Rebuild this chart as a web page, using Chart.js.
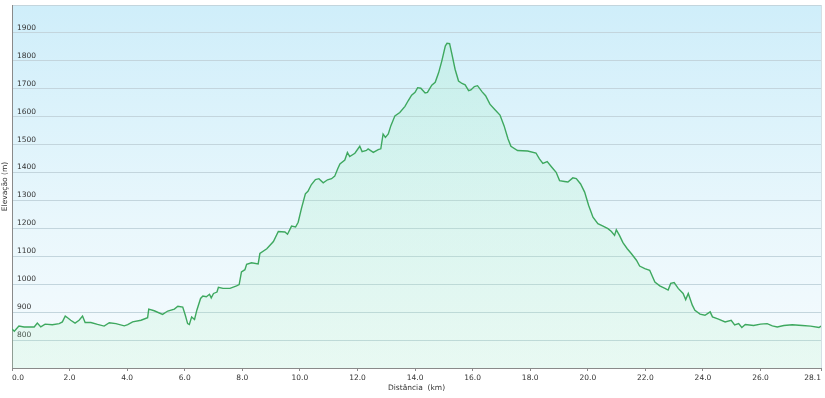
<!DOCTYPE html>
<html>
<head>
<meta charset="utf-8">
<script src="https://cdn.jsdelivr.net/npm/chart.js@4/dist/chart.umd.min.js"></script>
<style>
html,body{margin:0;padding:0;background:#fff;}
#wrap{width:825px;height:398px;}
</style>
</head>
<body>
<div id="wrap"><canvas id="c" width="825" height="398"></canvas></div>
<script>
// Distance along route (km)
const distKm = [0.00,0.08,0.24,0.42,0.77,0.88,1.00,1.15,1.40,1.64,1.75,1.85,1.93,2.04,2.19,2.33,2.45,2.54,2.74,2.97,3.20,3.38,3.61,3.90,4.02,4.19,4.48,4.71,4.75,4.94,5.23,5.41,5.64,5.76,5.93,6.02,6.10,6.16,6.24,6.34,6.42,6.55,6.63,6.75,6.86,6.92,7.00,7.12,7.17,7.33,7.57,7.80,7.89,7.97,8.09,8.15,8.32,8.55,8.61,8.85,9.08,9.25,9.48,9.57,9.71,9.85,9.94,10.05,10.19,10.28,10.40,10.54,10.66,10.81,10.96,11.10,11.21,11.31,11.39,11.56,11.65,11.73,11.91,12.08,12.16,12.31,12.37,12.55,12.72,12.81,12.89,12.97,13.07,13.16,13.30,13.47,13.65,13.76,13.88,14.00,14.09,14.20,14.35,14.43,14.58,14.70,14.82,14.93,15.05,15.11,15.20,15.28,15.39,15.51,15.63,15.74,15.86,15.94,16.06,16.17,16.33,16.45,16.60,16.76,16.95,17.09,17.23,17.33,17.56,17.91,18.20,18.32,18.44,18.59,18.75,18.90,19.02,19.19,19.31,19.48,19.60,19.75,19.89,20.03,20.18,20.35,20.53,20.70,20.82,20.93,20.99,21.10,21.22,21.37,21.51,21.69,21.80,21.98,22.15,22.33,22.50,22.68,22.79,22.88,23.00,23.14,23.31,23.40,23.49,23.63,23.72,23.90,24.07,24.25,24.33,24.54,24.77,24.98,25.10,25.24,25.35,25.47,25.76,26.00,26.23,26.41,26.58,26.81,27.10,27.45,27.74,28.03,28.10];
// Elevation (m)
const elevM = [840,832,850,847,847,861,847,857,855,859,865,886,880,871,861,871,886,863,863,856,850,862,859,851,855,865,871,880,911,905,892,904,911,921,918,889,859,856,883,874,907,949,958,955,964,951,967,972,989,985,985,994,999,1044,1052,1071,1077,1073,1110,1127,1153,1189,1187,1179,1208,1205,1222,1270,1324,1333,1357,1375,1378,1363,1374,1378,1387,1413,1431,1445,1472,1457,1469,1494,1475,1479,1485,1472,1482,1485,1538,1526,1538,1568,1603,1615,1637,1657,1677,1687,1704,1702,1685,1687,1713,1723,1758,1800,1853,1863,1862,1824,1770,1728,1719,1714,1693,1696,1708,1711,1689,1675,1645,1627,1606,1568,1520,1494,1479,1477,1470,1449,1433,1439,1419,1401,1371,1368,1366,1381,1378,1359,1330,1282,1240,1217,1208,1199,1189,1175,1195,1175,1149,1127,1110,1086,1065,1056,1050,1008,994,985,979,1003,1006,985,967,945,967,925,907,893,889,901,883,875,865,871,854,859,845,856,852,857,859,851,847,852,855,852,850,845,850];
// Axis ticks
const xTicks = [0,2,4,6,8,10,12,14,16,18,20,22,24,26,28.1];
const yLabelled = [800,900,1000,1100,1200,1300,1400,1500,1600,1700,1800,1900];
const xTitle = 'Distância  (km)';
const yTitle = 'Elevação (m)';

const points = distKm.map((d,i)=>({x:d,y:elevM[i]}));

const bgPlugin = {
  id:'bg',
  beforeDraw(chart){
    const {ctx, chartArea:{left,top,right,bottom}} = chart;
    const g = ctx.createLinearGradient(0,top,0,bottom);
    g.addColorStop(0,'#cfeefa');
    g.addColorStop(0.6,'#e9f7fc');
    g.addColorStop(1,'#f6fbfe');
    ctx.save();
    ctx.fillStyle = g;
    ctx.fillRect(left,top,right-left,bottom-top);
    ctx.restore();
  },
  afterDraw(chart){
    const {ctx, chartArea:{left,top,right,bottom}} = chart;
    ctx.save();
    ctx.strokeStyle = '#d4dfe4';
    ctx.lineWidth = 1;
    ctx.beginPath();
    ctx.moveTo(Math.round(right)+0.5, top);
    ctx.lineTo(Math.round(right)+0.5, bottom);
    ctx.stroke();
    ctx.restore();
  }
};

const font = {family:'"DejaVu Sans", Verdana, sans-serif', size:7.5};

new Chart(document.getElementById('c'), {
  type:'line',
  data:{datasets:[{
    data:points,
    borderColor:'#3ea85f',
    borderWidth:1.4,
    pointRadius:0,
    tension:0,
    fill:'start',
    backgroundColor:(ctx)=>{
      const ca = ctx.chart.chartArea;
      if(!ca) return 'rgba(150,230,175,0.2)';
      const g = ctx.chart.ctx.createLinearGradient(0,ca.top,0,ca.bottom);
      g.addColorStop(0,'rgba(150,235,185,0.22)');
      g.addColorStop(1,'rgba(170,240,190,0.18)');
      return g;
    }
  }]},
  options:{
    responsive:false,
    animation:false,
    layout:{padding:{top:5,right:4,left:0,bottom:0}},
    plugins:{legend:{display:false},tooltip:{enabled:false}},
    scales:{
      x:{
        type:'linear',
        min:0,max:28.1,
        afterBuildTicks:(s)=>{s.ticks = xTicks.map(v=>({value:v}));},
        afterFit:(s)=>{s.height = 30; s.paddingLeft = 0; s.paddingRight = 0;},
        ticks:{
          font, color:'#333', padding:3, align:'inner', maxRotation:0, autoSkip:false,
          callback:(v)=>Number(v).toFixed(1)
        },
        grid:{drawOnChartArea:false, drawTicks:true, tickLength:3, color:'#8a8a8a'},
        border:{display:true,color:'#8a8a8a',width:1},
        title:{display:true,text:xTitle,font,color:'#333',padding:{top:0,bottom:5}}
      },
      y:{
        min:700,max:2000,
        afterBuildTicks:(s)=>{const t=[];for(let v=700;v<=2000;v+=100)t.push({value:v});s.ticks=t;},
        afterFit:(s)=>{s.width = 12; s.paddingTop = 0; s.paddingBottom = 0;},
        ticks:{
          font, color:'#333', mirror:true, padding:5, labelOffset:-5,
          callback:(v)=> yLabelled.includes(v) ? String(v) : ''
        },
        grid:{drawTicks:false, color:'#c3d5dd', lineWidth:1},
        border:{display:true,color:'#8a8a8a',width:1},
        title:{display:true,text:yTitle,font,color:'#333',padding:{top:1,bottom:0}}
      }
    }
  },
  plugins:[bgPlugin]
});
</script>
</body>
</html>
